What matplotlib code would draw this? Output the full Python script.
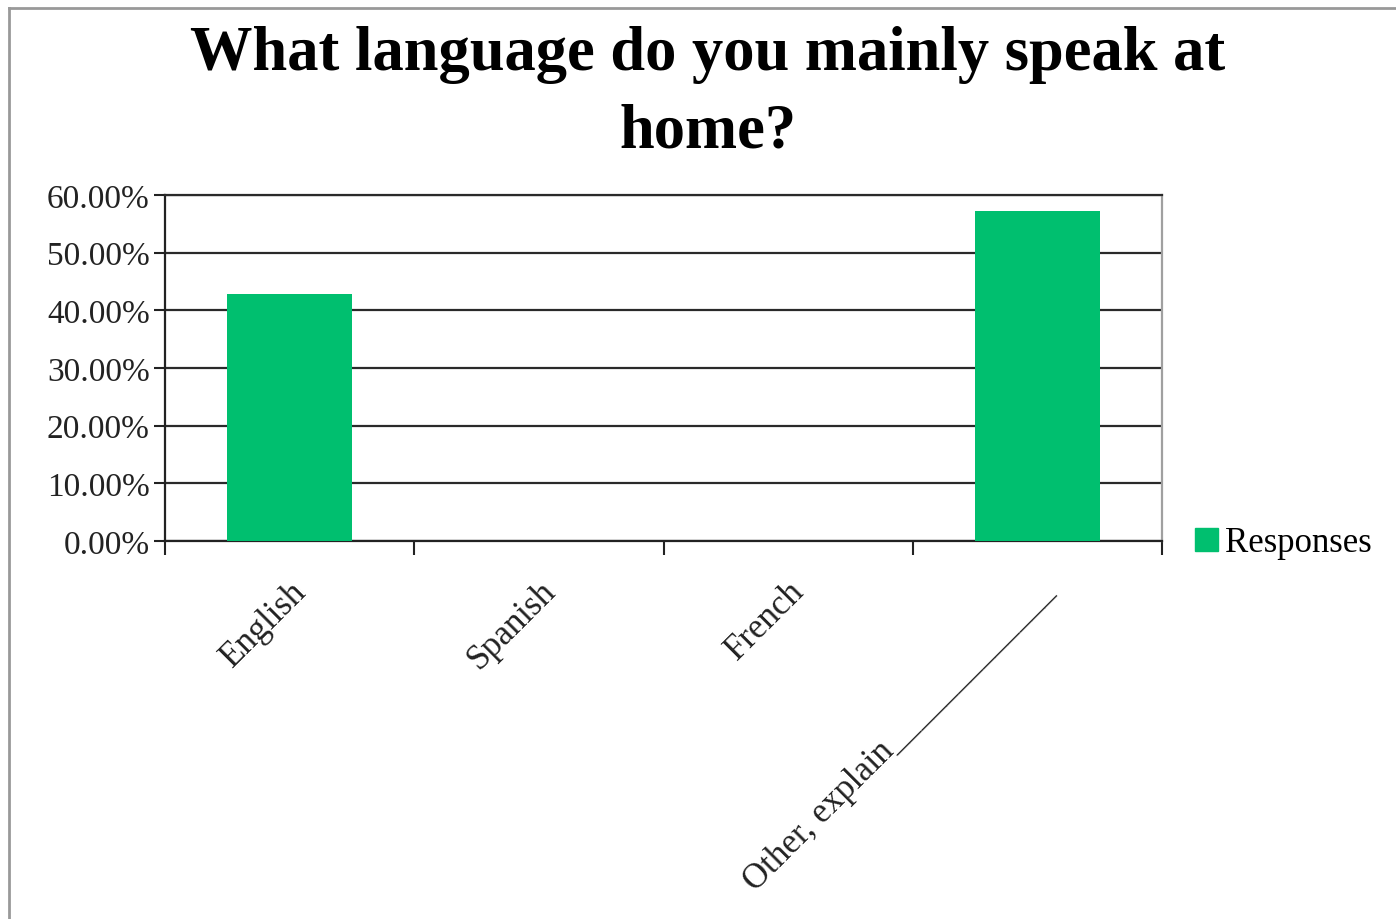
import numpy as np
import matplotlib.pyplot as plt
from matplotlib.lines import Line2D
from matplotlib.patches import Patch

# survey answers (share of respondents)
categories = ['English', 'Spanish', 'French', 'Other, explain' + '_' * 13]
responses = [42.86, 0.0, 0.0, 57.14]
yticks = [0, 10, 20, 30, 40, 50, 60]
title = 'What language do you mainly speak at\nhome?'

green = '#00BF6F'
serif = ['Liberation Serif', 'DejaVu Serif']

fig = plt.figure(figsize=(13.96, 9.2), dpi=100)
ax = fig.add_axes([165/1396, 378/920, 997/1396, 346/920])

x = np.arange(len(categories))
ax.bar(x, responses, width=0.5, color=green, zorder=3, label='Responses')

# axis limits / grid
ax.set_xlim(-0.5, len(categories) - 0.5)
ax.set_ylim(0, 60)
ax.set_yticks(yticks)
ax.set_yticklabels([f'{v:.2f}%' for v in yticks], fontsize=24, family=serif, color='#222222')
ax.yaxis.grid(True, color='#2a2a2a', linewidth=1.6, zorder=1)
ax.tick_params(axis='y', length=8, width=1.5, color='#222222', pad=3)

# boundary ticks at the category edges, labels at the centres
ax.set_xticks(np.arange(len(categories) + 1) - 0.5)
ax.set_xticklabels([])
ax.tick_params(axis='x', which='major', length=10, width=1.5, color='#222222')
ax.set_xticks(x, minor=True)
ax.set_xticklabels(categories, minor=True, rotation=45, ha='right', va='top',
                   rotation_mode='anchor', fontsize=25, family=serif, color='#222222')
ax.tick_params(axis='x', which='minor', length=0, pad=24)

for side in ['left', 'bottom']:
    ax.spines[side].set_color('#222222')
    ax.spines[side].set_linewidth(1.6)
ax.spines['right'].set_color('#a0a0a0')
ax.spines['right'].set_linewidth(1.6)
ax.spines['top'].set_color('#2a2a2a')
ax.spines['top'].set_linewidth(1.6)

fig.text(0.507, 0.972, title, ha='center', va='top', fontsize=45, fontweight='bold',
         family=serif, linespacing=1.45)

leg = fig.legend(handles=[Patch(color=green, label='Responses')], loc='center left',
                 bbox_to_anchor=(1178/1396, 1 - 544/920), frameon=False,
                 prop={'family': serif, 'size': 25}, handlelength=0.65, handleheight=0.65,
                 handletextpad=0.2, borderpad=0)

# outer frame along the top and left edges
fig.add_artist(Line2D([9/1396, 1], [1 - 9/920, 1 - 9/920], color='#999999', linewidth=2))
fig.add_artist(Line2D([9/1396, 9/1396], [0, 1 - 9/920], color='#999999', linewidth=2))

fig.savefig('out.png', dpi=100)
